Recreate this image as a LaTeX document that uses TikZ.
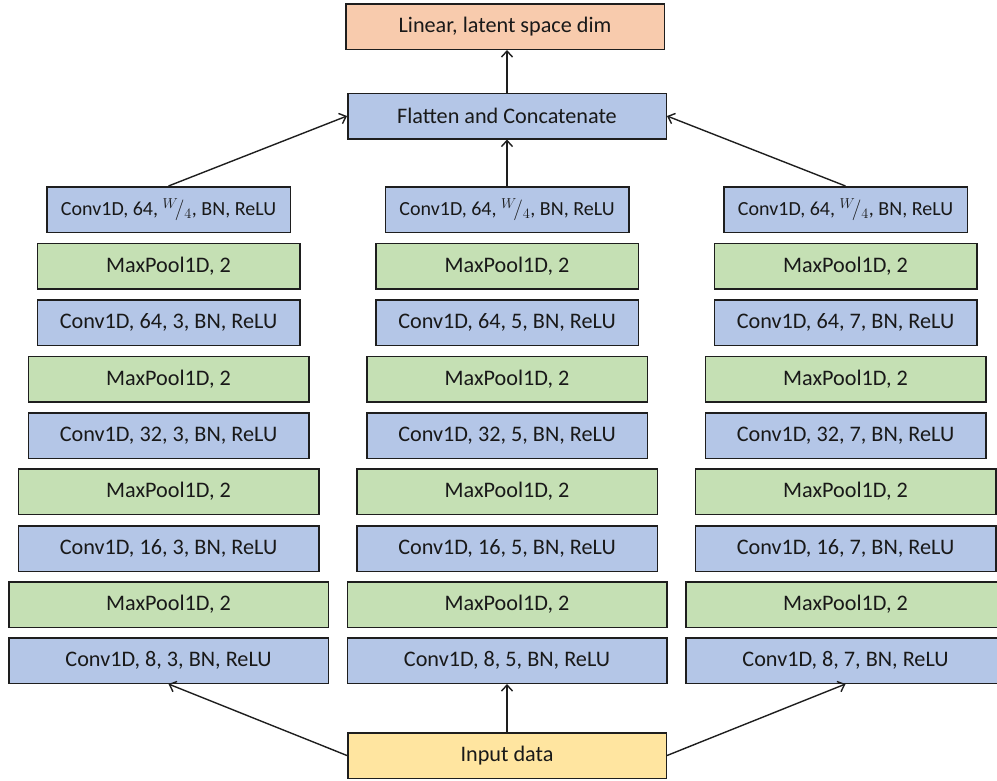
\documentclass[tikz,border=0pt]{standalone}
\usepackage{fontspec}
\setmainfont{Carlito}
\usetikzlibrary{arrows.meta}
\definecolor{convblue}{RGB}{180,198,231}
\definecolor{poolgreen}{RGB}{197,224,180}
\definecolor{linorange}{RGB}{248,203,173}
\definecolor{inyellow}{RGB}{255,229,160}
\definecolor{edge}{RGB}{30,30,30}
\newcommand\wquarter{$^{W}\!/_{4}$}
\begin{document}
\begin{tikzpicture}[x=1pt,y=-1pt,
  layer/.style={draw=edge, line width=1.5pt, minimum height=45.5pt, inner sep=0pt,
                text=black!90, font=\fontsize{22.2}{26}\selectfont},
  conv/.style={layer, fill=convblue},
  pool/.style={layer, fill=poolgreen},
  arr/.style={draw=edge, line width=1.4pt, -{Straight Barb[length=6pt,width=11pt,line width=1.4pt]}}]
\useasboundingbox (0,0) rectangle (997,780);

% head of the network
\node[layer, fill=linorange, minimum width=318.5pt] (lin) at (505,26.5) {Linear, latent space dim};
\node[conv, minimum width=318.5pt] (flat) at (507,116) {Flatten and Concatenate};
\node[layer, fill=inyellow, minimum width=318.5pt] (inp) at (507,755.5) {Input data};

% three parallel branches with kernel sizes 3, 5 and 7
\foreach \c/\x/\k in {l/168.5/3, m/507/5, r/845.5/7} {
  \node[conv, minimum width=243.5pt, font=\fontsize{20}{24}\selectfont] (\c1) at (\x,209.5) {Conv1D, 64, \wquarter, BN, ReLU};
  \node[pool, minimum width=262.5pt] (\c2) at (\x,266)   {MaxPool1D, 2};
  \node[conv, minimum width=262.5pt] (\c3) at (\x,322.5) {Conv1D, 64, \k, BN, ReLU};
  \node[pool, minimum width=280.5pt] (\c4) at (\x,379)   {MaxPool1D, 2};
  \node[conv, minimum width=280.5pt] (\c5) at (\x,435.5) {Conv1D, 32, \k, BN, ReLU};
  \node[pool, minimum width=300.5pt] (\c6) at (\x,491.5) {MaxPool1D, 2};
  \node[conv, minimum width=300.5pt] (\c7) at (\x,548.5) {Conv1D, 16, \k, BN, ReLU};
  \node[pool, minimum width=319.5pt] (\c8) at (\x,604.5) {MaxPool1D, 2};
  \node[conv, minimum width=319.5pt] (\c9) at (\x,660.5) {Conv1D, 8, \k, BN, ReLU};
}

% input fans out to the branches
\draw[arr] (inp.west)  -- (l9.south);
\draw[arr] (inp.north) -- (m9.south);
\draw[arr] (inp.east)  -- (r9.south);

% branches merge into the flatten layer
\draw[arr] (l1.north) -- (flat.west);
\draw[arr] (m1.north) -- (flat.south);
\draw[arr] (r1.north) -- (flat.east);
\draw[arr] (flat.north) -- (flat.north |- lin.south);
\end{tikzpicture}
\end{document}
